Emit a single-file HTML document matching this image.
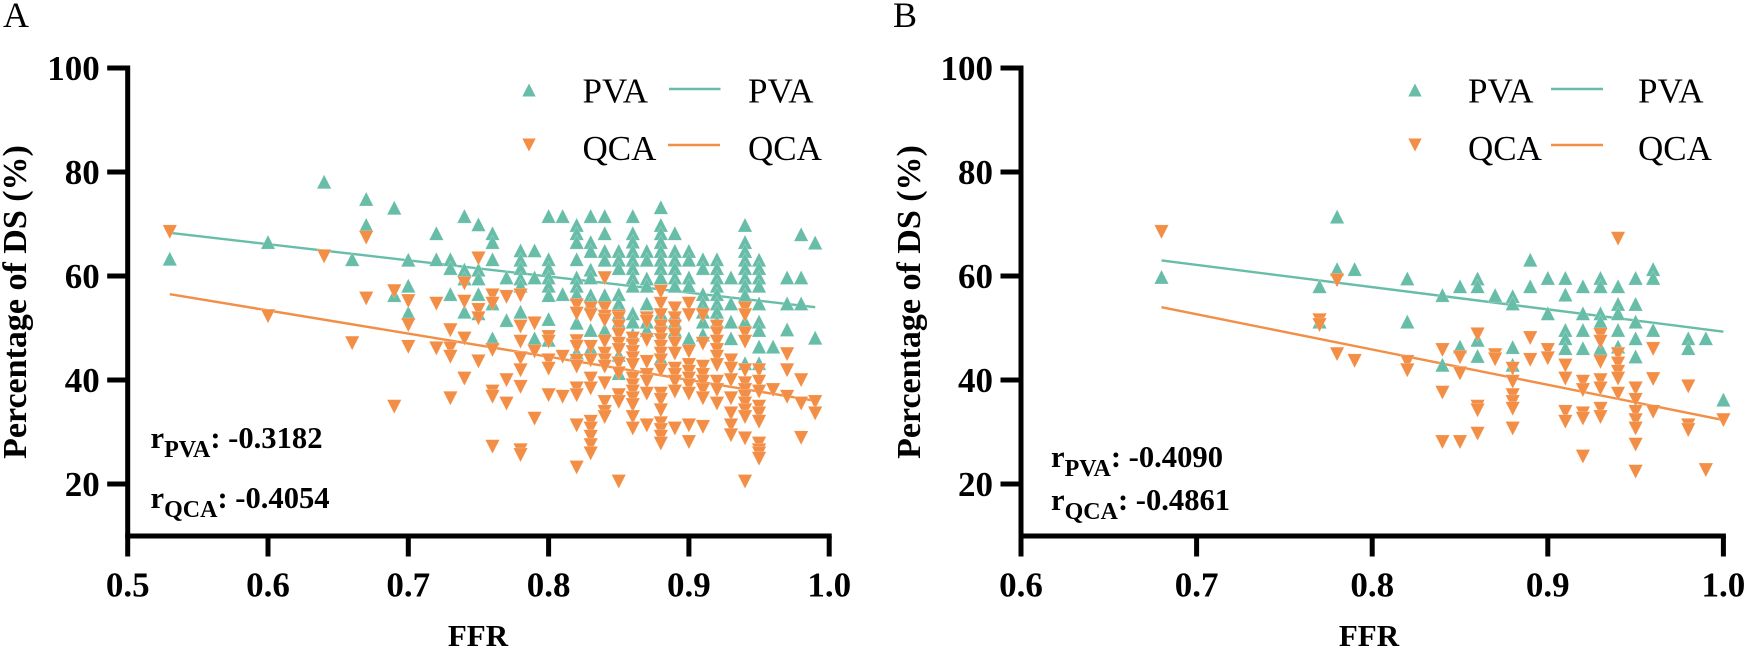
<!DOCTYPE html>
<html lang="en">
<head>
<meta charset="utf-8">
<title>PVA and QCA percentage of DS versus FFR</title>
<style>
html,body{margin:0;padding:0;background:#fff;width:1748px;height:654px;overflow:hidden}
svg{display:block}
text{font-family:"Liberation Serif",serif;fill:#000}
.b{font-weight:bold}
</style>
</head>
<body>
<svg id="chart" xmlns="http://www.w3.org/2000/svg" width="1748" height="654" viewBox="0 0 1748 654">
<rect x="0" y="0" width="1748" height="654" fill="#fff"/>
<g id="panelA">
<text x="3" y="27" font-size="36">A</text>
<text class="b" transform="translate(26,302) rotate(-90)" text-anchor="middle" font-size="34">Percentage of DS (%)</text>
<text class="b" x="478" y="646" text-anchor="middle" font-size="31">FFR</text>
<text class="b" x="150.5" y="448" font-size="30.6">r<tspan dy="9" font-size="24">PVA</tspan><tspan dy="-9">: -0.3182</tspan></text>
<text class="b" x="150.5" y="508" font-size="30.6">r<tspan dy="9" font-size="24">QCA</tspan><tspan dy="-9">: -0.4054</tspan></text>
<polygon points="529,83.5 535.7,96.5 522.3,96.5" fill="#68bda8"/>
<text x="582.5" y="102.5" font-size="35">PVA</text>
<line x1="669" y1="89" x2="720.5" y2="89" stroke="#68bda8" stroke-width="2.4"/>
<text x="748" y="102.5" font-size="35">PVA</text>
<polygon points="522.3,138.5 535.7,138.5 529,151.5" fill="#f28e45"/>
<text x="582.5" y="160" font-size="35">QCA</text>
<line x1="668" y1="145" x2="720" y2="145" stroke="#f28e45" stroke-width="2.4"/>
<text x="748" y="160" font-size="35">QCA</text>
</g>
<g id="panelB">
<text x="893" y="27" font-size="36">B</text>
<text class="b" transform="translate(920,302) rotate(-90)" text-anchor="middle" font-size="34">Percentage of DS (%)</text>
<text class="b" x="1369" y="646" text-anchor="middle" font-size="31">FFR</text>
<text class="b" x="1051" y="467" font-size="30.6">r<tspan dy="9" font-size="24">PVA</tspan><tspan dy="-9">: -0.4090</tspan></text>
<text class="b" x="1051" y="510" font-size="30.6">r<tspan dy="9" font-size="24">QCA</tspan><tspan dy="-9">: -0.4861</tspan></text>
<polygon points="1415,83.5 1421.7,96.5 1408.3,96.5" fill="#68bda8"/>
<text x="1468" y="102.5" font-size="35">PVA</text>
<line x1="1551" y1="89" x2="1603" y2="89" stroke="#68bda8" stroke-width="2.4"/>
<text x="1638" y="102.5" font-size="35">PVA</text>
<polygon points="1408.3,138.5 1421.7,138.5 1415,151.5" fill="#f28e45"/>
<text x="1468" y="160" font-size="35">QCA</text>
<line x1="1551" y1="145" x2="1603" y2="145" stroke="#f28e45" stroke-width="2.4"/>
<text x="1638" y="160" font-size="35">QCA</text>
</g>
</svg>
<script>
// Each row: FFR value followed by the percentage-of-DS values at that FFR.
const pvaA = [
[0.53,63.3],[0.6,66.5],[0.64,78.1],[0.66,63.2],[0.67,74.8,69.8],[0.69,73.1,56.3],[0.7,63.1,58.1,52.9],
[0.72,68.2,63.2],[0.73,63.2,61.5,56.5],[0.74,71.5,61.2,59.5,53.1],[0.75,69.9,61.2,59.5,56.5,52.8],
[0.76,68.2,66.5,63.2,54.7,48],[0.77,59.7,51.5],[0.78,64.9,63.1,61.5,59.5,58.1,53.1],[0.79,64.9,59.7,48],
[0.8,71.5,63.2,61.5,59.7,58.1,56.3,51.7,47.7],[0.81,71.5,56.5],[0.82,69.8,68.2,66.5,63.2,59.7,58.1,56.5,51,45.3],
[0.83,71.5,66.5,64.8,61.2,59.7,56.3,54.7,49.6,46.1],[0.84,71.5,68.2,64.8,63.1,56.3,49.6],
[0.85,64.8,63.1,61.5,56.5,54.7,52.8,51.2,44.8,41.3],[0.86,71.5,68.2,66.6,64.8,63.1,61.5,59.7,58.1,52.8,51.2,48.7],
[0.87,64.8,63.1,59.5,58.1,54.7,51.2,49.6],[0.88,73.2,69.8,68.2,66.5,64.8,63.1,61.5,59.7,52.8,51.2,44.2],
[0.89,68.2,64.8,63.1,61.5,59.7,58.1,52.5,51.2,49.6],[0.9,64.8,63.1,59.7,58.1,48],[0.91,63.2,61.5,56.5,54.7,53.1,51.2,48.7],
[0.92,63.2,61.5,59.7,58.1,56.5,54.7,53.1,51.2],[0.93,59.7,54.7,51.2,48],[0.94,69.8,66.5,64.8,63.1,61.5,59.7,58.1,56.3,51.2,43.2],
[0.95,63.1,61.5,59.7,58.1,54.7,51.2,49.6,46.4,43.2],[0.96,46.4],[0.97,59.7,54.7,49.7],[0.98,68,59.7,54.7],[0.99,66.4,48.1]
];
const qcaA = [
[0.53,68.5],[0.6,52.3],[0.64,63.8],[0.66,47.1],[0.67,67.4,55.7],[0.69,57.1,34.9],[0.7,55.2,50.6,46.4],[0.72,54.7,46.1],
[0.73,49.6,46.1,44.5,36.5],[0.74,58.6,55.1,48,40.3],[0.75,63.4,53.5,51.9,43.6],[0.76,56.3,54.7,45.8,37.8,36.8,27.2],
[0.77,56,40,35.5],[0.78,56.3,50.3,47.4,44.2,41.9,38.7,26.5,25.6],[0.79,50.9,45.5,32.6],[0.8,48.3,47.4,43.8,42.2,37.1],[0.81,44.5,36.8],
[0.82,54.4,52.8,47.5,46.4,43.7,42.6,38.4,37.1,31.3,23.2],[0.83,53.8,52.5,46.4,43.8,40.3,38.4,32,30.7,29.1,27.5,25.9],
[0.84,59.6,53.8,52.2,51.5,47.4,45.1,43.8,42.6,39.4,35.8,33.9,32.9],[0.85,52.2,51.9,50.3,48.7,47,45.8,43.2,41.3,37.1,35.8,20.5],
[0.86,48,46.7,45.4,44.2,42.9,40.3,39,37.8,36.5,35.2,32.9,30.7],[0.87,51.9,51.2,47.7,43.5,41,39.7,37.4,31.3],
[0.88,57,54.7,52.5,50.3,49,47.7,46.4,45.1,43.8,41.9,37.4,36.2,34.2,31.7,30.4,29.1,27.8],
[0.89,53.8,51.9,50.3,48.7,47,45.1,42.2,41,39.7,37.8,30.7],[0.9,54.7,52.5,45.5,42.9,41.6,40.3,39,37.4,31.3,28.1],
[0.91,52.5,47,42.6,41,39.7,38.1,36.5,31],[0.92,50.3,49,47.4,45.8,44.5,42.9,39.7,38.1,35.5],[0.93,43.8,42.2,40,36.5,33.6,31.3,29.4],
[0.94,53.8,52.5,49,47.4,41.9,39.4,38.1,36.8,35.5,34.2,32.9,28.8,20.5],[0.95,41.9,39.7,37.8,34.9,33.6,32,27.8,26.5,25.9,24.9],
[0.96,38.1],[0.97,45,41.9,36.8],[0.98,40,35.5,28.9],[0.99,35.8,33.6]
];
const pvaB = [
[0.68,59.8],[0.77,58,51.2],[0.78,71.4,61.3],[0.79,61.3],[0.82,59.5,51.2],[0.84,56.3,42.9],[0.85,58,46.4],[0.86,59.5,58,47.7,44.6],
[0.87,56.3],[0.88,56.1,54.7,46.3,42.9],[0.89,63.1,58],[0.9,59.6,52.8],[0.91,59.6,56.4,49.6,48,46.1],[0.92,58,52.8,49.6,46.1],
[0.93,59.6,58,52.8,51.2,46.1],[0.94,58,54.6,52.8,49.6,46.4],[0.95,59.6,54.6,51.2,48,44.5],[0.96,61.3,59.6,49.6],[0.98,48,46.1],[0.99,48],[1,36.2]
];
const qcaB = [
[0.68,68.5],[0.77,51.5,50.6],[0.78,59.2,45],[0.79,43.7],[0.82,43.5,41.9],[0.84,45.8,37.6,28.1],[0.85,44.4,41.3,28.1],[0.86,48.8,34.9,34.2,29.7],
[0.87,44.8,44],[0.88,42.2,39.7,37.1,35.8,34.5,30.7],[0.89,48.1,43.9],[0.9,45.8,44.2],[0.91,42.8,40.3,33.9,32],[0.92,39.7,38.1,33.6,32.6,25.3],
[0.93,48.7,47.4,43.5,40,38.4,34.5,32.9],[0.94,67.2,45,43.2,41.6,40.3,37.4],[0.95,38.4,36.2,33.9,32.3,30.7,27.6,22.4],[0.96,46,40.2,33.9],
[0.98,38.8,31.3,30.4],[0.99,22.7],[1,32.3]
];
const fitFfrA = [0.53, 0.99];
const fitPvaA = [68.3, 54];
const fitQcaA = [56.5, 36];
const fitFfrB = [0.68, 1];
const fitPvaB = [63, 49.3];
const fitQcaB = [54, 32.3];
const xTickLabelsA = ["0.5","0.6","0.7","0.8","0.9","1.0"];
const xTickLabelsB = ["0.6","0.7","0.8","0.9","1.0"];
const yTickLabels = ["20","40","60","80","100"];

const TEAL = '#68bda8';
const ORANGE = '#f28e45';
const NS = 'http://www.w3.org/2000/svg';

function yScale(v){ return 68 + (100 - v) * 5.2; }

function make(parent, tag, attrs){
  const el = document.createElementNS(NS, tag);
  for (const k in attrs) el.setAttribute(k, attrs[k]);
  parent.appendChild(el);
  return el;
}

function drawPanel(root, xScale, xTicks, pva, qca, fitX, fitP, fitQ, x0, suffix){
  const xAxisY = yScale(10);
  const yAxis = make(root, 'rect', {x:x0-2.5, y:yScale(100)-2.5, width:5, height:xAxisY-yScale(100)+2.5, fill:'#000'});
  
  
  const xEnd = xScale(1);
  const xAxis = make(root, 'rect', {x:x0-2.5, y:xAxisY-2.5, width:xEnd-x0+5, height:5, fill:'#000'});
  
  

  yTickLabels.forEach(function(lbl){
    const y = yScale(+lbl);
    const t = make(root, 'rect', {x:x0-20.5, y:y-2.5, width:20, height:5, fill:'#000'});
    
    
    const s = make(root, 'text', {x:x0-28, y:y+12, 'text-anchor':'end', 'font-size':35, 'class':'b'});
    s.textContent = lbl;
    
    
  });
  xTicks.forEach(function(lbl){
    const x = xScale(+lbl);
    const t = make(root, 'rect', {x:x-2.5, y:xAxisY, width:5, height:20.5, fill:'#000'});
    
    
    const s = make(root, 'text', {x:x, y:596.5, 'text-anchor':'middle', 'font-size':35, 'class':'b'});
    s.textContent = lbl;
    
    
  });

  const lineP = make(root, 'line', {x1:xScale(fitX[0]), y1:yScale(fitP[0]), x2:xScale(fitX[1]), y2:yScale(fitP[1]), stroke:TEAL, 'stroke-width':2.4});
  
  
  const lineQ = make(root, 'line', {x1:xScale(fitX[0]), y1:yScale(fitQ[0]), x2:xScale(fitX[1]), y2:yScale(fitQ[1]), stroke:ORANGE, 'stroke-width':2.4});
  
  

  pva.forEach(function(row){
    const cx = xScale(row[0]);
    row.slice(1).forEach(function(v){
      const cy = yScale(v);
      const pts = cx+','+(cy-7.2)+' '+(cx+7.2)+','+(cy+6.9)+' '+(cx-7.2)+','+(cy+6.9);
      const m = make(root, 'polygon', {points:pts, fill:TEAL, stroke:'#fff', 'stroke-width':0.5, 'stroke-opacity':0.4});
      
      
    });
  });
  qca.forEach(function(row){
    const cx = xScale(row[0]);
    row.slice(1).forEach(function(v){
      const cy = yScale(v);
      const pts = (cx-7.2)+','+(cy-6.9)+' '+(cx+7.2)+','+(cy-6.9)+' '+cx+','+(cy+7.2);
      const m = make(root, 'polygon', {points:pts, fill:ORANGE, stroke:'#fff', 'stroke-width':0.5, 'stroke-opacity':0.4});
      
      
    });
  });
}

function xScaleA(f){ return 127.7 + (f - 0.5) * 1403; }
function xScaleB(f){ return 1021 + (f - 0.6) * 1756; }

drawPanel(document.getElementById('panelA'), xScaleA, xTickLabelsA, pvaA, qcaA, fitFfrA, fitPvaA, fitQcaA, xScaleA(0.5), 'a');
drawPanel(document.getElementById('panelB'), xScaleB, xTickLabelsB, pvaB, qcaB, fitFfrB, fitPvaB, fitQcaB, xScaleB(0.6), 'b');
</script>
</body>
</html>
